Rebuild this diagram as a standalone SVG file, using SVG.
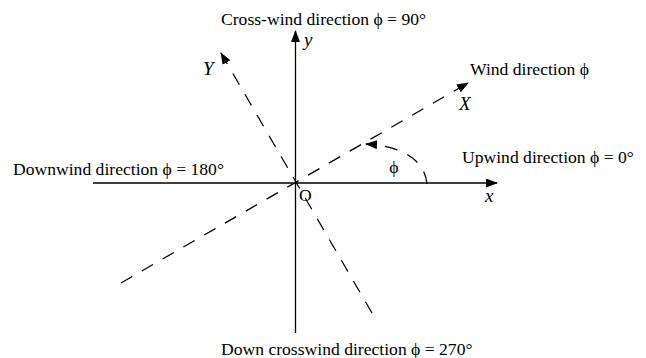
<svg xmlns="http://www.w3.org/2000/svg" width="646" height="358" viewBox="0 0 646 358">
<defs>
<style>
.t{font-family:"Liberation Serif","Times New Roman",serif;font-size:17.6px;fill:#000}
.i{font-family:"Liberation Serif","Times New Roman",serif;font-size:19px;font-style:italic;fill:#000}
.ax{stroke:#000;stroke-width:1.3;fill:none}
.ds{stroke:#000;stroke-width:1.3;fill:none;stroke-dasharray:13 11}
</style>
<marker id="ah" markerUnits="userSpaceOnUse" markerWidth="12" markerHeight="10" refX="11" refY="4.5" orient="auto">
<path d="M0,0 L12,4.5 L0,9 Z" fill="#000"/>
</marker>
</defs>
<rect width="646" height="358" fill="#fff"/>
<g id="connectors">
<line class="ax" x1="93" y1="183" x2="497" y2="183" marker-end="url(#ah)"/>
<line class="ax" x1="295.5" y1="333" x2="295.5" y2="31" marker-end="url(#ah)"/>
<line class="ds" x1="121" y1="283" x2="468" y2="83" marker-end="url(#ah)"/>
<line class="ds" x1="372" y1="313" x2="221" y2="53" marker-end="url(#ah)"/>
<path class="ds" d="M427,184 C425,160 402,146 366,144" marker-end="url(#ah)"/>
</g>
<g id="labels">
<text class="t" x="221" y="25">Cross-wind direction ϕ = 90°</text>
<text class="t" x="13" y="175">Downwind direction ϕ = 180°</text>
<text class="t" x="462" y="163">Upwind direction ϕ = 0°</text>
<text class="t" x="470" y="75">Wind direction ϕ</text>
<text class="t" x="221" y="355">Down crosswind direction ϕ = 270°</text>
<text class="t" x="299" y="201">O</text>
<text class="t" x="394" y="173" text-anchor="middle">ϕ</text>
<text class="i" x="304" y="46">y</text>
<text class="i" x="203" y="75">Y</text>
<text class="i" x="459" y="110">X</text>
<text class="i" x="485" y="202">x</text>
</g>
</svg>
